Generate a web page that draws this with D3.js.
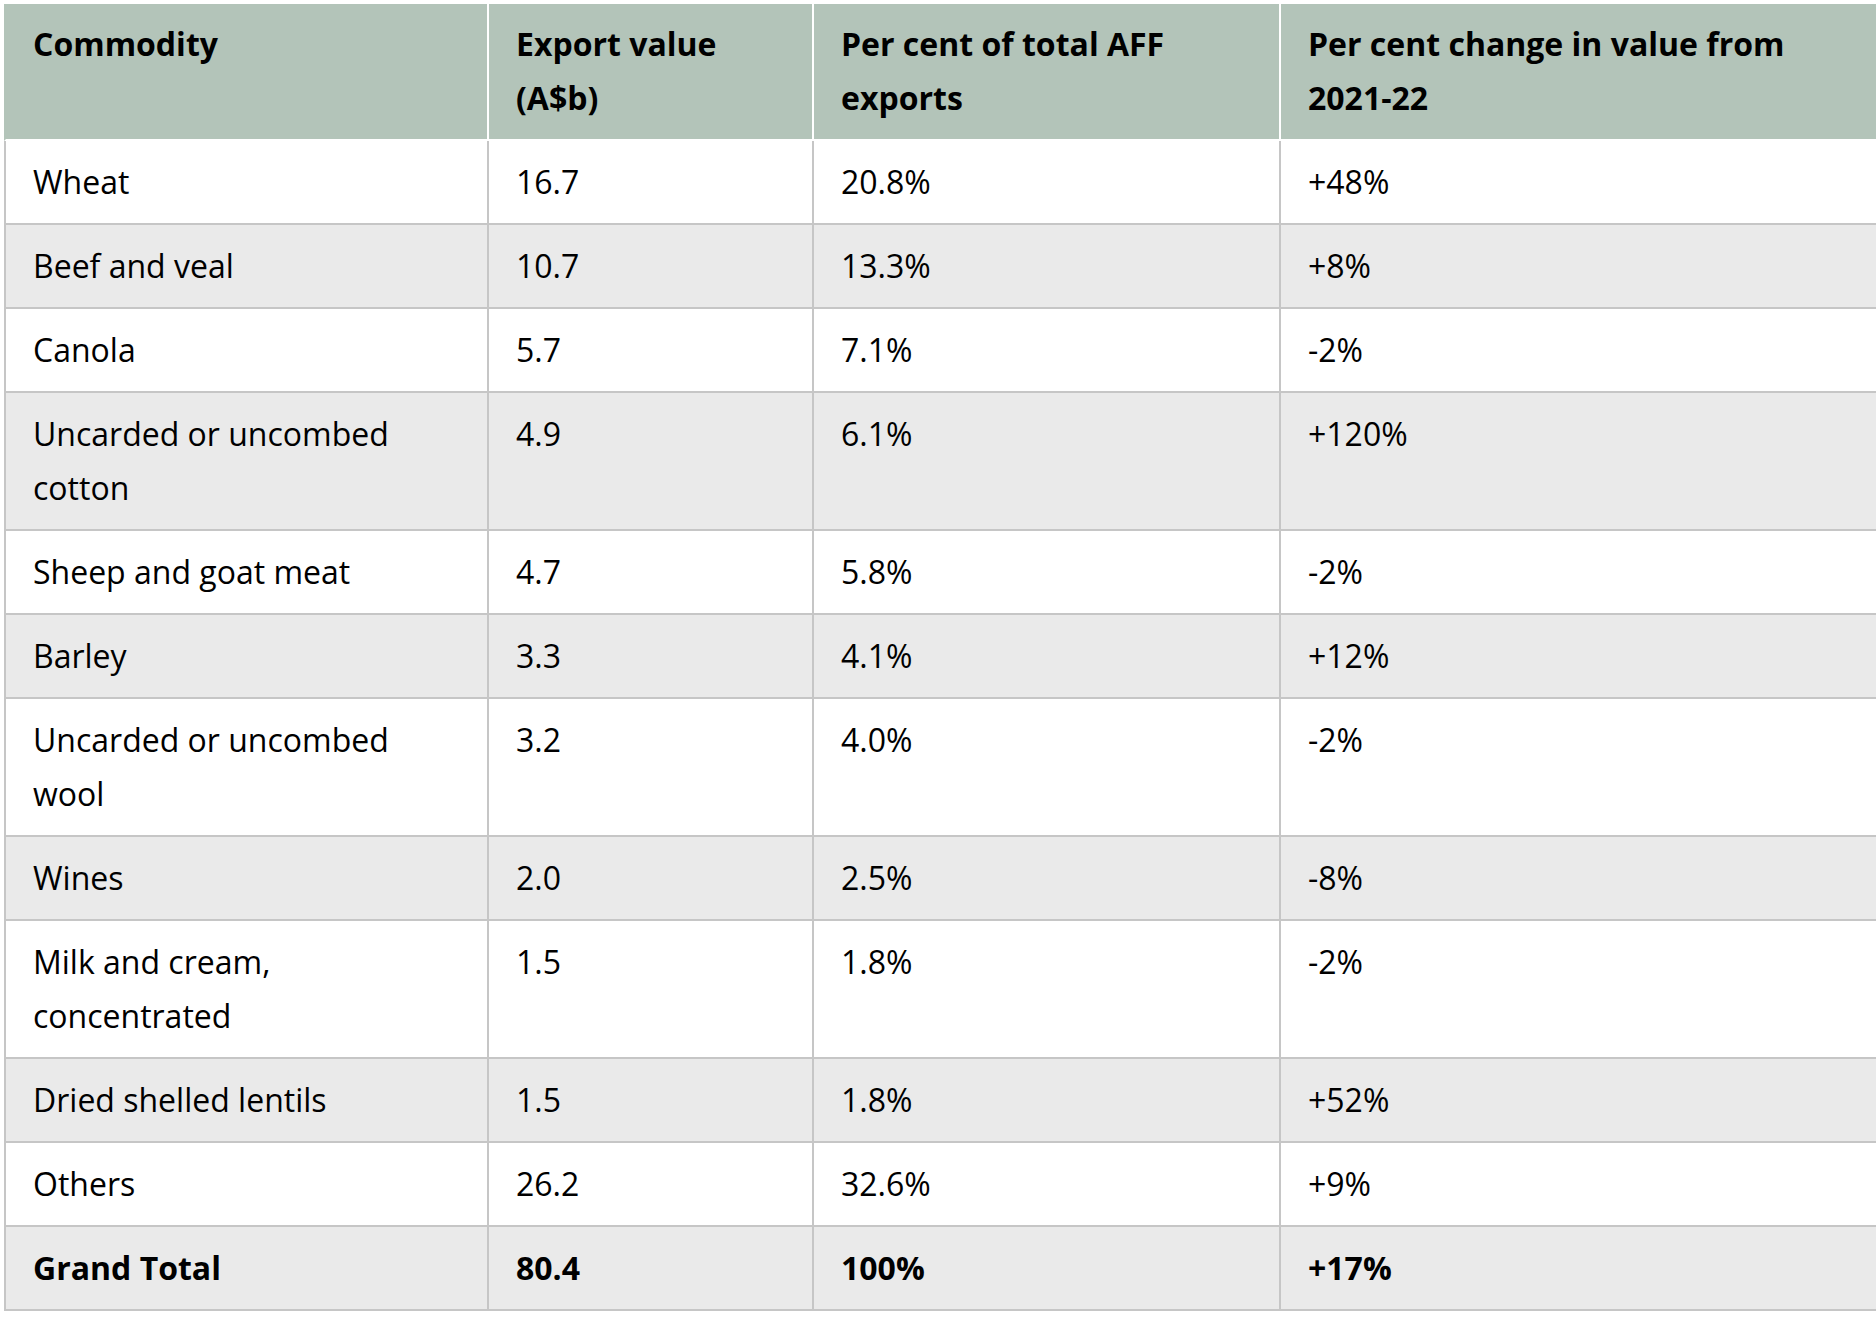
<!DOCTYPE html>
<html>
<head>
<meta charset="utf-8">
<script src="https://cdn.jsdelivr.net/npm/d3@7"></script>
<style>
  html, body { margin: 0; padding: 0; background: #fff; overflow: hidden; width: 1876px; height: 1328px; }
  #table {
    position: absolute; left: 4px; top: 4px;
    display: grid;
    font-family: "Open Sans", sans-serif;
    font-size: 32px; line-height: 54px; color: #000;
  }
  .cell {
    box-sizing: border-box;
    padding: 14px 27px 14px 27px;
    border-right: 2px solid #c6c6c6;
    border-bottom: 2px solid #c6c6c6;
    font-weight: 400;
  }
  .cell.last { padding-right: 80px; }
  .cell.first { border-left: 2px solid #c6c6c6; }
  .cell.head {
    background: #b3c4b9; font-weight: 700;
    border-right-color: #fff; border-bottom-color: #fff;
    padding-top: 13px; padding-bottom: 14px;
  }
  .cell.head.first { border-left-color: #b3c4b9; }
  .cell.odd { background: #eaeaea; }
  .cell.bold { font-weight: 700; }
</style>
</head>
<body>
<div id="table"></div>
<script>
const headers = ["Commodity", "Export value (A$b)", "Per cent of total AFF exports", "Per cent change in value from 2021-22"];
const commodities = ["Wheat", "Beef and veal", "Canola", "Uncarded or uncombed cotton", "Sheep and goat meat", "Barley", "Uncarded or uncombed wool", "Wines", "Milk and cream, concentrated", "Dried shelled lentils", "Others", "Grand Total"];
const exportValues = [16.7, 10.7, 5.7, 4.9, 4.7, 3.3, 3.2, 2.0, 1.5, 1.5, 26.2, 80.4];
const shareOfTotal = [20.8, 13.3, 7.1, 6.1, 5.8, 4.1, 4.0, 2.5, 1.8, 1.8, 32.6, 100];
const changeFrom2122 = [48, 8, -2, 120, -2, 12, -2, -8, -2, 52, 9, 17];

const colWidths = [485, 325, 467, 600];

const fmtValue = d3.format(".1f");
const fmtShare = v => (v === 100 ? "100" : d3.format(".1f")(v)) + "%";
const fmtChange = v => (v > 0 ? "+" : "-") + Math.abs(v) + "%";

const rows = commodities.map((c, i) => [c, fmtValue(exportValues[i]), fmtShare(shareOfTotal[i]), fmtChange(changeFrom2122[i])]);

const table = d3.select("#table")
  .style("grid-template-columns", colWidths.map(w => w + "px").join(" "));

const cls = (j) => "cell" + (j === 0 ? " first" : "") + (j === colWidths.length - 1 ? " last" : "");

table.selectAll("div.head")
  .data(headers)
  .join("div")
  .attr("class", (d, j) => cls(j) + " head")
  .text(d => d);

rows.forEach((r, i) => {
  table.selectAll(null)
    .data(r)
    .join("div")
    .attr("class", (d, j) => cls(j) + (i % 2 === 1 ? " odd" : "") + (i === rows.length - 1 ? " bold" : ""))
    .text(d => d);
});
</script>
</body>
</html>
